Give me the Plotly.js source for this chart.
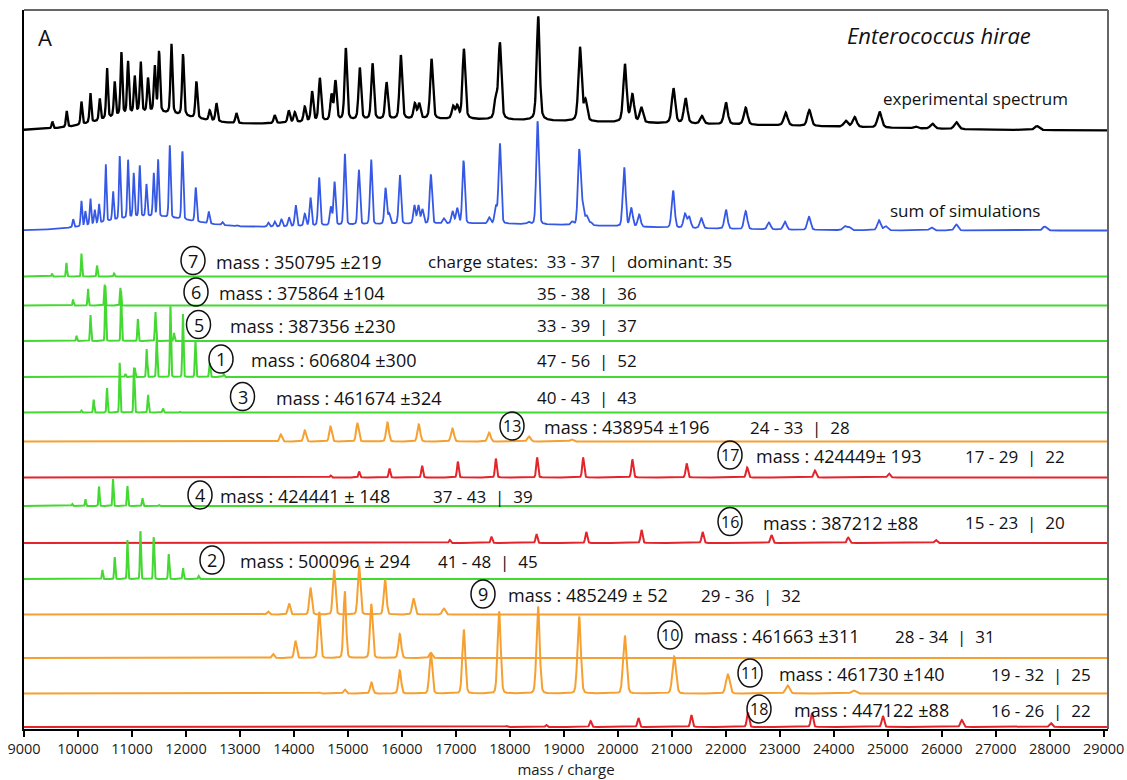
<!DOCTYPE html>
<html><head><meta charset="utf-8">
<script src="https://cdn.plot.ly/plotly-3.0.1.min.js"></script>
<style>html,body{margin:0;padding:0;background:#fff}#chart{width:1127px;height:780px}</style>
</head><body><div id="chart"></div>
<script>
// ================= DATA =================
// x-axis ticks
const xTickVals = [9000,10000,11000,12000,13000,14000,15000,16000,17000,18000,19000,20000,21000,22000,23000,24000,25000,26000,27000,28000,29000];
const xTickLabels = xTickVals.map(String);

// experimental spectrum: peak m/z and heights, plus broad background humps
const expMz = [9526,9791,10064,10230,10403,10538,10680,10804,10927,11051,11162,11297,11422,11502,11731,11946,12194,12441,12565,12935,13645,13905,14016,14201,14337,14480,14696,14770,14961,15220,15456,15715,15980,16240,16320,16549,16950,17024,17148,17740,17815,18525,19298,19400,20131,20270,20435,21031,21256,21558,22002,22368,23109,23547,24221,24386,24849,25512,25829,26272,27762];
const expH  = [7,16,23,30,22,51,35,63,53,37,51,34,46,61,70,62,37,10,18,10,8,12,10,15,30,43,25,39,72,52,56,37,64,15,15,60,12,12,70,20,76,104,74,20,58,27,15,35,25,8,22,17,13,16,6,10,16,2,5,7,4];
const expHumpMz = [11300,16500,22500];
const expHumpH  = [15,11,4];
const expHumpW  = [800,3000,2500];

// sum of simulations
const sumMz = [9911,10064,10137,10230,10310,10390,10514,10650,10773,10927,11033,11144,11268,11403,11483,11700,11935,12181,12422,12676,12942,13526,13645,13769,13910,14034,14201,14307,14467,14683,14752,14943,15202,15430,15697,15764,15962,16232,16306,16380,16536,16777,16939,17024,17142,17616,17740,17815,18347,18513,19158,19285,19347,19421,19496,20118,20250,20396,21024,21243,21322,21547,22003,22368,22798,23096,23541,24200,24282,24838,24962,25809,26272,27907];
const sumH  = [8,25,14,26,14,19,58,29,63,58,44,51,32,43,57,72,68,34,12,3,1,4,5,7,9,21,12,28,48,18,43,71,55,65,36,10,49,18,18,14,49,5,12,15,63,6,17,80,2,103,3,75,19,9,3,59,18,12,37,14,11,10,19,18,7,8,13,4,3,10,4,3,6,4];
const sumHumpMz = [11300,17000];
const sumHumpH  = [13,7];
const sumHumpW  = [800,3000];

// individual simulated species (peak m/z, heights)
const p7Mz  = [9519,9786,10064,10353,10668];                 const p7H  = [3,14,23,11,3];
const p6Mz  = [9908,10186,10495,10786];                      const p6H  = [6,17,21,17];
const p5Mz  = [9973,10232,10508,10801,11109,11435,11779];    const p5H  = [5,26,55,50,22,29,8];
const p1Mz  = [10879,11051,11273,11459,11713,11944,12176,12441,12700]; const p1H = [3,9,28,40,71,63,36,14,3];
const p3Mz  = [10064,10291,10538,10773,11038,11298,11575,11885];       const p3H = [2,13,25,50,45,18,4,1];
const p13Mz = [13756,14201,14677,15177,15733,16313,16937,17616,18357,19142]; const p13H = [7,11,15,18,19,17,13,9,5,2];
const p17Mz = [14683,15207,15770,16374,17036,17740,18505,19357,20269,21275,22396,23650,25021]; const p17H = [2,6,9,12,16,19,20,20,18,14,10,7,4];
const p4Mz  = [9897,10138,10390,10649,10916,11194,11501];    const p4H  = [2,7,20,27,20,8,1];
const p16Mz = [16887,17660,18494,19416,20439,21571,22846,24267,25892]; const p16H = [3,6,9,11,13,11,8,5.5,3];
const p2Mz  = [10453,10681,10916,11157,11403,11681,11946,12237]; const p2H = [9,22,39,48,42,25,11,3];
const p9Mz  = [13521,13910,14306,14744,15207,15689,16215,16776]; const p9H = [3,11,27,45,49,35,16,6];
const p10Mz = [13613,14028,14469,14942,15433,15961,16535];   const p10H = [4,17,46,67,54,24,5];
const p11Mz = [14466,14942,15437,15961,16535,17147,17801,18523,19283,20130,21045,22038,23146,24367]; const p11H = [1,4,11,23,41,64,82,87,77,58,37,19,8,3];
const p18Mz = [17944,18675,19496,20382,21362,22409,23595,24910,26370,28019]; const p18H = [1,2,6,9,12,14,14,11,7,4];

// row labels
const rowIds    = ['7','6','5','1','3','13','17','4','16','2','9','10','11','18'];
const rowMass   = ['350795 ±219','375864 ±104','387356 ±230','606804 ±300','461674 ±324','438954 ±196','424449± 193','424441 ± 148','387212 ±88','500096 ± 294','485249 ± 52','461663 ±311','461730 ±140','447122 ±88'];
const rowCharge = ['charge states:\u00a0\u00a033 - 37\u00a0\u00a0|\u00a0\u00a0dominant: 35','35 - 38\u00a0\u00a0|\u00a0\u00a036','33 - 39\u00a0\u00a0|\u00a0\u00a037','47 - 56\u00a0\u00a0|\u00a0\u00a052','40 - 43\u00a0\u00a0|\u00a0\u00a043','24 - 33\u00a0\u00a0|\u00a0\u00a028','17 - 29\u00a0\u00a0|\u00a0\u00a022','37 - 43\u00a0\u00a0|\u00a0\u00a039','15 - 23\u00a0\u00a0|\u00a0\u00a020','41 - 48\u00a0\u00a0|\u00a0\u00a045','29 - 36\u00a0\u00a0|\u00a0\u00a032','28 - 34\u00a0\u00a0|\u00a0\u00a031','19 - 32\u00a0\u00a0|\u00a0\u00a025','16 - 26\u00a0\u00a0|\u00a0\u00a022'];
const rowKind   = ['g','g','g','g','g','o','r','g','r','g','o','o','o','r'];
const rowPeakMz = [p7Mz,p6Mz,p5Mz,p1Mz,p3Mz,p13Mz,p17Mz,p4Mz,p16Mz,p2Mz,p9Mz,p10Mz,p11Mz,p18Mz];
const rowPeakH  = [p7H,p6H,p5H,p1H,p3H,p13H,p17H,p4H,p16H,p2H,p9H,p10H,p11H,p18H];

// ================= LAYOUT / STYLE =================
const X_MIN = 9000, X_MAX = 29080;
const PL = 24, PR = 1108, PT = 10, PB = 729;
const X = px => X_MIN + (px - PL) * (X_MAX - X_MIN) / (PR - PL);
const Y = py => PB - py;

const expBase = 130.5, sumBase = 230.5;
const rowBase = [276.5,305.5,341,377,412.5,441.5,477.5,506,543,579,614.5,658,693.5,727];
const rowCircle = [[193,260.5],[196,292],[198.5,324.5],[221,359],[242.5,396.5],[512,426],[730,455],[200,495],[730,521.5],[212,560],[483,594],[670,635],[750,673],[759,709]];
const rowMassX  = [214,217,228,249,274,542,754,218,761,238,506,692,777,792];
const rowChargeX= [426,535,535,535,535,748,963,431,963,436,699,893,989,989];
const kindStyle = {
  g:{color:'#44d932', sig:0.0009, eta:0.1, w:2},
  o:{color:'#f5a031', sig:0.0016, eta:0.15, w:2},
  r:{color:'#e3242b', sig:0.0009, eta:0.2, w:2}
};

const STEP = 4;
const grid = [];
for (let m = X_MIN; m <= X_MAX; m += STEP) grid.push(m);

function profile(mzs, hs, sigFrac, eta, humpMz, humpH, humpW) {
  const y = new Array(grid.length).fill(0);
  if (humpMz) {
    for (let k = 0; k < humpMz.length; k++) {
      for (let i = 0; i < grid.length; i++) {
        const d = (grid[i] - humpMz[k]) / humpW[k];
        y[i] += humpH[k] * Math.exp(-0.5 * d * d);
      }
    }
  }
  for (let k = 0; k < mzs.length; k++) {
    const c = mzs[k], s = sigFrac * c, g = s * 1.2;
    const lo = Math.max(0, Math.floor((c - 60 * g - X_MIN) / STEP));
    const hi = Math.min(grid.length - 1, Math.ceil((c + 60 * g - X_MIN) / STEP));
    for (let i = lo; i <= hi; i++) {
      const d = grid[i] - c;
      y[i] += hs[k] * ((1 - eta) * Math.exp(-0.5 * d * d / (s * s)) + eta / (1 + (d / g) * (d / g)));
    }
  }
  return y;
}

const traces = [];
function addTrace(yvals, base, color, width) {
  traces.push({type:'scatter', mode:'lines', x:grid, y:yvals.map(v => Y(base) + v),
    line:{color:color, width:width, shape:'linear'}, hoverinfo:'skip'});
}
addTrace(profile(expMz, expH, 0.0015, 0.4, expHumpMz, expHumpH, expHumpW), expBase, '#000000', 2.3);
addTrace(profile(sumMz, sumH, 0.0013, 0.15, sumHumpMz, sumHumpH, sumHumpW), sumBase, '#3558e6', 1.8);
for (let r = 0; r < rowIds.length; r++) {
  const st = kindStyle[rowKind[r]];
  addTrace(profile(rowPeakMz[r], rowPeakH[r], st.sig, st.eta), rowBase[r], st.color, st.w);
}

const FONT = 'Open Sans, Noto Sans, sans-serif';
const annotations = [];
const shapes = [];
const txt = (px, py, text, size, anchor, extra) => Object.assign({
  x: X(px), y: Y(py), xref:'x', yref:'y', text:text, showarrow:false,
  xanchor: anchor || 'left', yanchor:'middle',
  font:{family:FONT, size:size, color:'#111'}
}, extra || {});

annotations.push(txt(45, 37, 'A', 22, 'center'));
annotations.push(txt(845, 35, '<i>Enterococcus hirae</i>', 22, 'left'));
annotations.push(txt(881, 98, 'experimental spectrum', 17, 'left'));
annotations.push(txt(888, 210, 'sum of simulations', 17, 'left'));

for (let r = 0; r < rowIds.length; r++) {
  const [cx, cy] = rowCircle[r];
  shapes.push({type:'circle', xref:'x', yref:'y', xsizemode:'pixel', ysizemode:'pixel',
    xanchor:X(cx), yanchor:Y(cy), x0:-12, x1:12, y0:-14, y1:14,
    line:{color:'#111', width:1.5}, fillcolor:'rgba(0,0,0,0)'});
  annotations.push(txt(cx, cy, rowIds[r], rowIds[r].length > 1 ? 16 : 18, 'center'));
  annotations.push(txt(rowMassX[r], cy + 1, 'mass : ' + rowMass[r], 18, 'left'));
  annotations.push(txt(rowChargeX[r], cy + 1, rowCharge[r], 17, 'left'));
}

shapes.push({type:'line', xref:'paper', yref:'paper', x0:0, x1:1, y0:1, y1:1, line:{color:'#333', width:1.5}});
shapes.push({type:'line', xref:'paper', yref:'paper', x0:1, x1:1, y0:0, y1:1, line:{color:'#666', width:2}});

const layout = {
  width:1127, height:780,
  margin:{l:PL, r:1127 - PR, t:PT, b:780 - PB},
  paper_bgcolor:'#ffffff', plot_bgcolor:'#ffffff',
  showlegend:false,
  xaxis:{range:[X_MIN, X_MAX], tickvals:xTickVals, ticktext:xTickLabels,
    ticks:'outside', ticklen:6, tickwidth:2, tickcolor:'#000',
    showline:true, linecolor:'#000', linewidth:2, showgrid:false, zeroline:false,
    tickfont:{family:FONT, size:14.5, color:'#1a1a1a'},
    title:{text:'mass / charge', font:{family:FONT, size:15, color:'#1a1a1a'}, standoff:7},
    fixedrange:true},
  yaxis:{range:[0, PB - PT], showline:true, linecolor:'#000', linewidth:2.5,
    showticklabels:false, ticks:'', showgrid:false, zeroline:false, fixedrange:true},
  shapes:shapes,
  annotations:annotations
};

Plotly.newPlot('chart', traces, layout, {staticPlot:true, displayModeBar:false});
</script>
</body></html>
